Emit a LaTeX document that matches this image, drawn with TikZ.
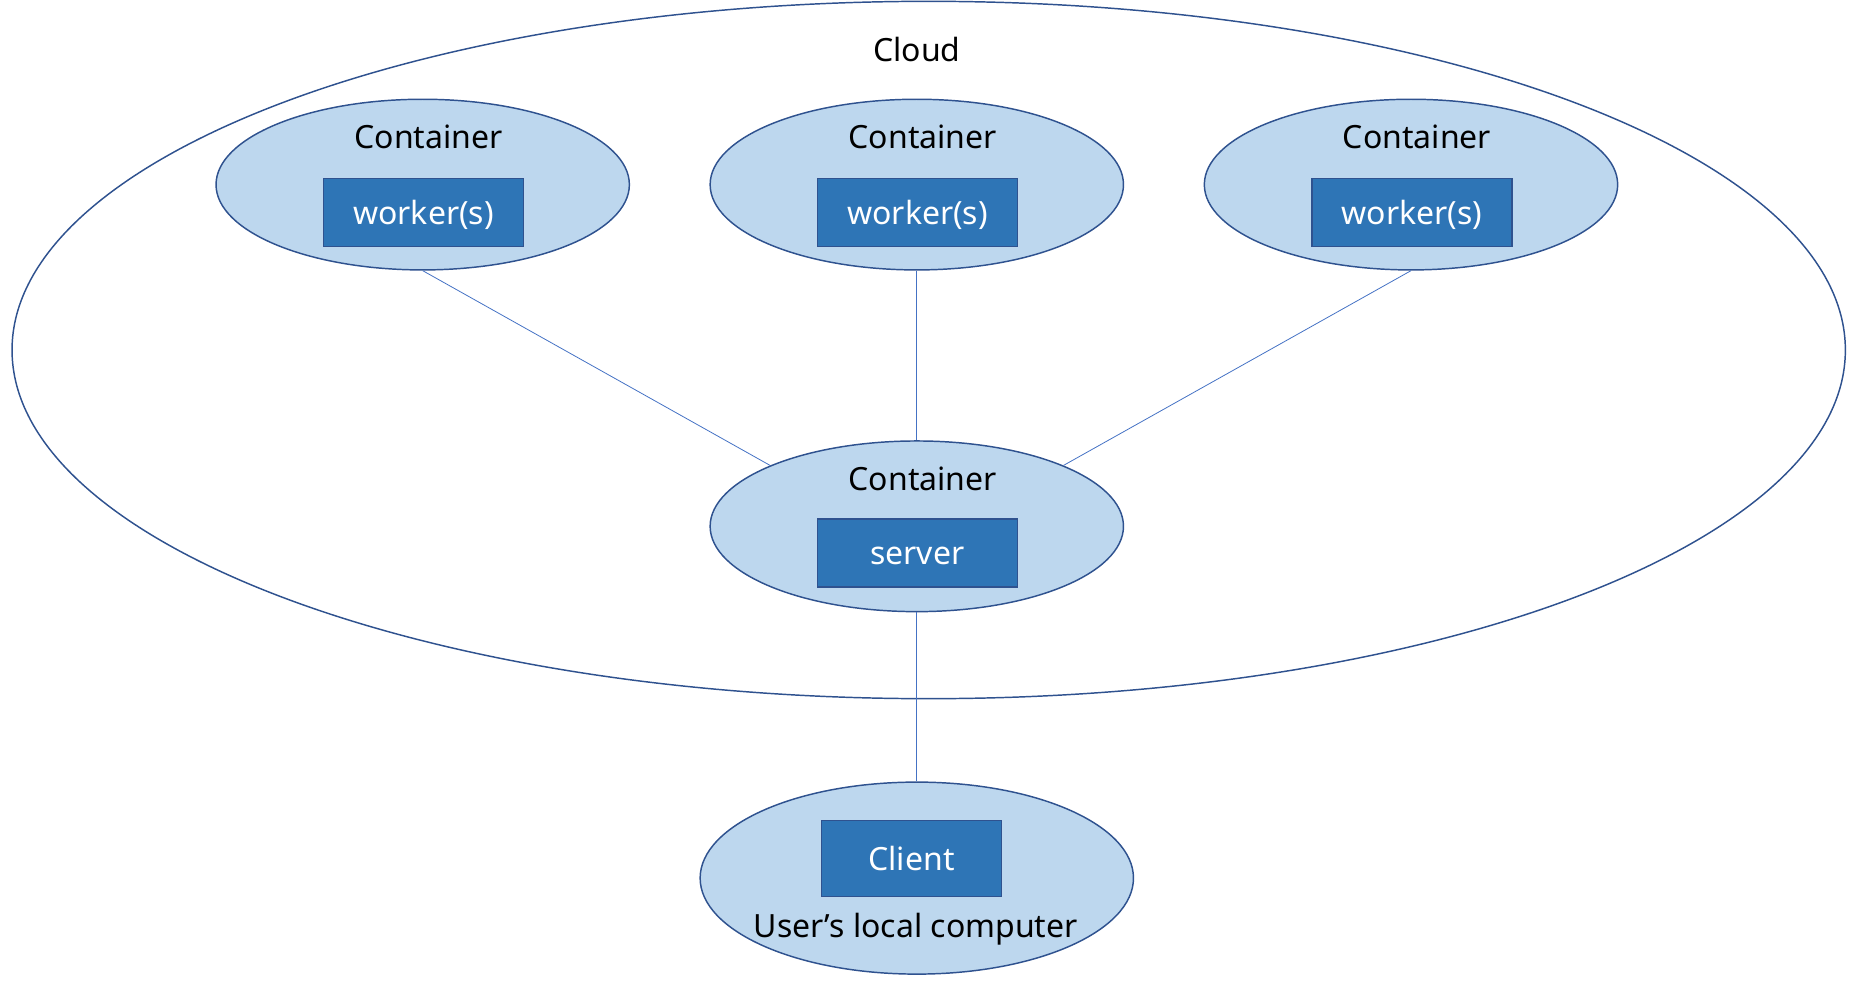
\documentclass[tikz,border=0pt]{standalone}
\usepackage{fontspec}
\setmainfont{Noto Sans}
\usetikzlibrary{shapes.geometric, positioning}
\definecolor{edgeblue}{HTML}{2F528F}
\definecolor{fillblue}{HTML}{BDD7EE}
\definecolor{boxblue}{HTML}{2E75B6}
\definecolor{lineblue}{HTML}{4472C4}

\begin{document}
\begin{tikzpicture}[
      x=0.75pt, y=-0.75pt,
      every node/.style={font=\fontsize{24}{28}\selectfont},
      container/.style={ellipse, draw=edgeblue, fill=fillblue, line width=1.1pt,
        minimum width=310pt, minimum height=128pt, inner sep=0pt},
      procbox/.style={rectangle, draw=edgeblue, fill=boxblue, line width=1.1pt,
        text=white, text height=19pt, text depth=1.5pt,
        minimum width=150pt, minimum height=51pt, inner sep=0pt},
      link/.style={draw=lineblue, line width=0.6pt}
    ]
      \useasboundingbox (0,0) rectangle (1867,1002);

      % cloud
      \node[ellipse, draw=edgeblue, line width=1.1pt, minimum width=1375pt,
        minimum height=523pt, inner sep=0pt] (cloud) at (928.7,350) {};
      \node at (916.8,50) {Cloud};

      % server and client
      \node[container] (srv) at (916.8,526.3) {};
      \node at (922.8,478.7) {Container};
      \node[procbox] (srvbox) at (917.4,553.1) {server};

      \node[container, minimum width=325pt, minimum height=144pt] (cli) at (916.8,878.1) {};
      \node[procbox, minimum width=135pt, minimum height=57pt] (clibox) at (911.5,858.5) {Client};
      \node at (915.6,928.8) {User’s local computer};

      % workers
      \foreach \i/\x in {1/422.7, 2/916.8, 3/1411} {
        \node[container] (c\i) at (\x,184.6) {};
        \node at (\x+6,136.9) {Container};
        \node[procbox] (w\i) at (\x+0.8,212.5) {worker(s)};
      }

      \draw[link] (c1.south) -- (srv.north west);
      \draw[link] (c2.south) -- (srv.north);
      \draw[link] (c3.south) -- (srv.north east);
      \draw[link] (srv.south) -- (cli.north);
    \end{tikzpicture}
\end{document}
